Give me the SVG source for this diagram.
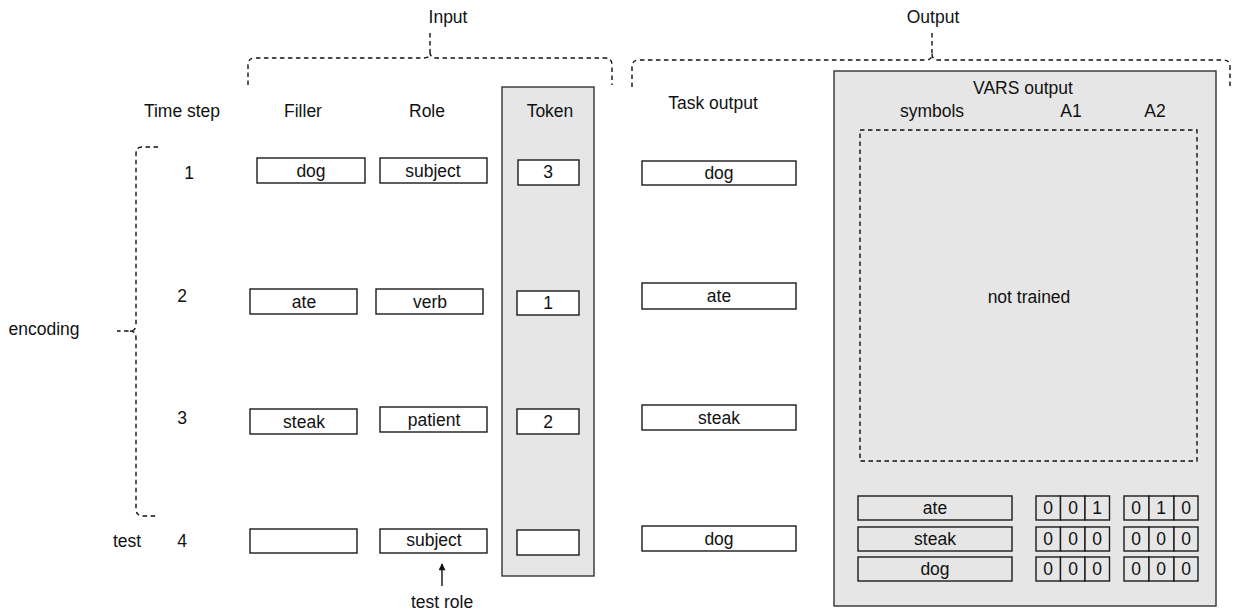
<svg xmlns="http://www.w3.org/2000/svg" width="1233" height="613" viewBox="0 0 1233 613">
<defs>
<style>
text{font-family:"Liberation Sans",Arial,sans-serif;font-size:17.5px;fill:#111;text-anchor:middle}
.box{fill:#fff;stroke:#1a1a1a;stroke-width:1.4}
.cell{fill:#e6e6e6;stroke:#1a1a1a;stroke-width:1.4}
.panel{fill:#e6e6e6;stroke:#333;stroke-width:1.4}
.dash{fill:none;stroke:#111;stroke-width:1.4;stroke-dasharray:4.5,3.5}
.dashbox{fill:none;stroke:#111;stroke-width:1.4;stroke-dasharray:4.5,3.5}
.line{fill:none;stroke:#111;stroke-width:1.4}
</style>
<marker id="arr" viewBox="0 0 10 10" refX="9" refY="5" markerWidth="9" markerHeight="7" orient="auto" markerUnits="userSpaceOnUse">
<path d="M0,0 L10,5 L0,10 z" fill="#111"/>
</marker>
</defs>
<rect width="1233" height="613" fill="#fff"/>

<g id="labels">
<text x="448" y="23">Input</text>
<text x="933" y="23">Output</text>
<text x="182" y="117">Time step</text>
<text x="303" y="117">Filler</text>
<text x="427" y="117">Role</text>
<text x="713" y="109">Task output</text>
<text x="189" y="179">1</text>
<text x="182" y="302">2</text>
<text x="182" y="424">3</text>
<text x="182" y="547">4</text>
<text x="127" y="547">test</text>
<text x="44" y="335">encoding</text>
<text x="442" y="608">test role</text>
</g>

<g id="token-panel">
<rect class="panel" x="502" y="87" width="92" height="489"/>
<text x="550" y="117">Token</text>
</g>

<g id="vars-panel">
<rect class="panel" x="834" y="71" width="382" height="535"/>
<text x="1023" y="94">VARS output</text>
<text x="932" y="117">symbols</text>
<text x="1071" y="117">A1</text>
<text x="1155" y="117">A2</text>
<rect class="dashbox" x="860" y="130" width="337" height="331"/>
<text x="1029" y="303">not trained</text>
</g>

<g id="filler-1"><rect class="box" x="257" y="158" width="108" height="25"/><text x="311" y="177">dog</text></g>
<g id="role-1"><rect class="box" x="380" y="158" width="107" height="25"/><text x="433" y="177">subject</text></g>
<g id="token-1"><rect class="box" x="518" y="160" width="61" height="25"/><text x="548" y="178">3</text></g>

<g id="filler-2"><rect class="box" x="250" y="289" width="107" height="25"/><text x="304" y="308">ate</text></g>
<g id="role-2"><rect class="box" x="376" y="289" width="107" height="25"/><text x="430" y="308">verb</text></g>
<g id="token-2"><rect class="box" x="517" y="291" width="62" height="24"/><text x="548" y="309">1</text></g>

<g id="filler-3"><rect class="box" x="250" y="409" width="107" height="25"/><text x="304" y="428">steak</text></g>
<g id="role-3"><rect class="box" x="380" y="407" width="107" height="25"/><text x="434" y="426">patient</text></g>
<g id="token-3"><rect class="box" x="517" y="409" width="62" height="25"/><text x="548" y="428">2</text></g>

<g id="filler-4"><rect class="box" x="250" y="529" width="107" height="24"/></g>
<g id="role-4"><rect class="box" x="380" y="529" width="107" height="24"/><text x="434" y="546">subject</text></g>
<g id="token-4"><rect class="box" x="517" y="530" width="62" height="25"/></g>

<g id="task-1"><rect class="box" x="642" y="161" width="154" height="24"/><text x="719" y="179">dog</text></g>
<g id="task-2"><rect class="box" x="642" y="283" width="154" height="26"/><text x="719" y="302">ate</text></g>
<g id="task-3"><rect class="box" x="642" y="405" width="154" height="25"/><text x="719" y="424">steak</text></g>
<g id="task-4"><rect class="box" x="642" y="526" width="154" height="25"/><text x="719" y="545">dog</text></g>

<g id="vars-row-1">
<rect class="cell" x="858" y="496" width="154" height="24"/><text x="935" y="514">ate</text>
<rect class="cell" x="1036" y="496" width="24.5" height="24"/><rect class="cell" x="1060.5" y="496" width="24.5" height="24"/><rect class="cell" x="1085" y="496" width="24.5" height="24"/>
<text x="1048" y="514">0</text><text x="1073" y="514">0</text><text x="1097" y="514">1</text>
<rect class="cell" x="1124" y="496" width="25" height="24"/><rect class="cell" x="1149" y="496" width="25" height="24"/><rect class="cell" x="1174" y="496" width="24" height="24"/>
<text x="1136" y="514">0</text><text x="1161" y="514">1</text><text x="1186" y="514">0</text>
</g>
<g id="vars-row-2">
<rect class="cell" x="858" y="527" width="154" height="24"/><text x="935" y="545">steak</text>
<rect class="cell" x="1036" y="527" width="24.5" height="24"/><rect class="cell" x="1060.5" y="527" width="24.5" height="24"/><rect class="cell" x="1085" y="527" width="24.5" height="24"/>
<text x="1048" y="545">0</text><text x="1073" y="545">0</text><text x="1097" y="545">0</text>
<rect class="cell" x="1124" y="527" width="25" height="24"/><rect class="cell" x="1149" y="527" width="25" height="24"/><rect class="cell" x="1174" y="527" width="24" height="24"/>
<text x="1136" y="545">0</text><text x="1161" y="545">0</text><text x="1186" y="545">0</text>
</g>
<g id="vars-row-3">
<rect class="cell" x="858" y="557" width="154" height="24"/><text x="935" y="575">dog</text>
<rect class="cell" x="1036" y="557" width="24.5" height="24"/><rect class="cell" x="1060.5" y="557" width="24.5" height="24"/><rect class="cell" x="1085" y="557" width="24.5" height="24"/>
<text x="1048" y="575">0</text><text x="1073" y="575">0</text><text x="1097" y="575">0</text>
<rect class="cell" x="1124" y="557" width="25" height="24"/><rect class="cell" x="1149" y="557" width="25" height="24"/><rect class="cell" x="1174" y="557" width="24" height="24"/>
<text x="1136" y="575">0</text><text x="1161" y="575">0</text><text x="1186" y="575">0</text>
</g>

<g id="connectors">
<path class="dash" d="M248,85 V65 Q248,58 255,58 H424 Q430,58 430,52 V33 M430,52 Q430,58 436,58 H605 Q612,58 612,65 V85"/>
<path class="dash" d="M632,87 V67 Q632,60 639,60 H926 Q932,60 932,54 V33 M932,54 Q932,60 938,60 H1223 Q1230,60 1230,67 V87"/>
<path class="dash" d="M158,147 H142 Q136,147 136,154 V324 Q136,331 130,331 H117 M130,331 Q136,331 136,338 V509 Q136,516 143,516 H158"/>
<line class="line" x1="442" y1="586" x2="442" y2="564" marker-end="url(#arr)"/>
</g>
</svg>
